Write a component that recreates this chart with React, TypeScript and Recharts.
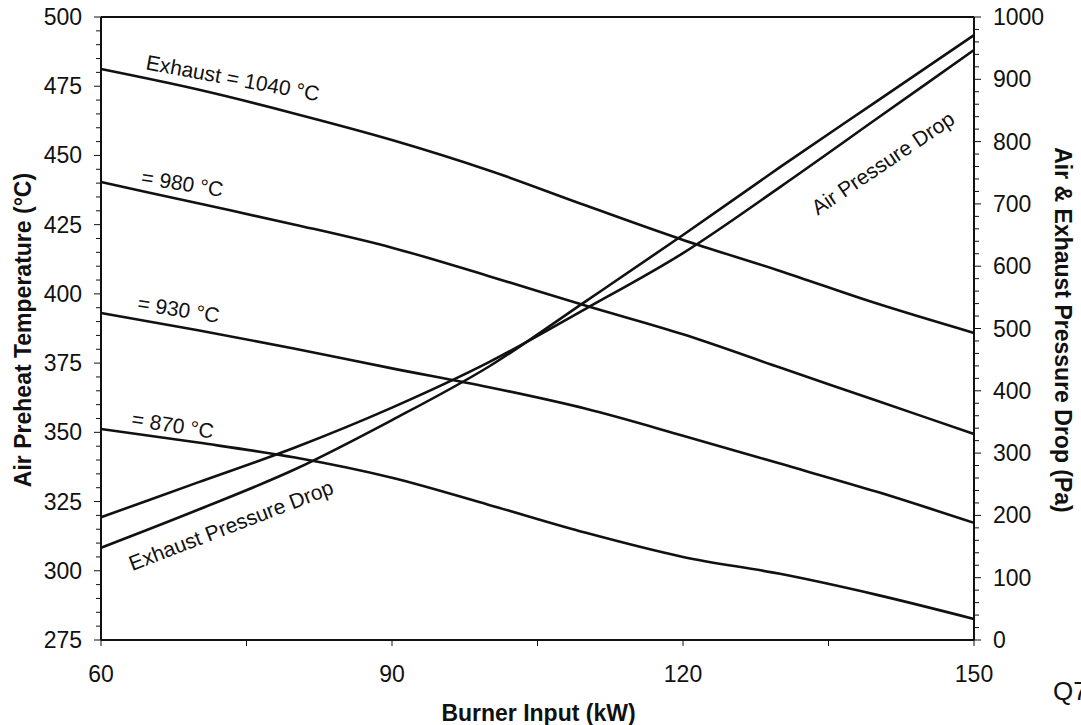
import React from 'react';
import {
  LineChart,
  Line,
  XAxis,
  YAxis,
  ReferenceLine,
  ReferenceDot,
} from 'recharts';

// burner input (kW) sampled every 10 kW
const burnerInput = [60, 70, 80, 90, 100, 110, 120, 130, 140, 150];

// air preheat temperature (°C), one curve per exhaust temperature
const preheat1040 = [481.2, 473.8, 465.1, 455.6, 444.6, 431.9, 419.5, 408.3, 396.5, 385.9];
const preheat980 = [440.4, 432.7, 425.0, 416.7, 406.4, 395.7, 385.4, 373.4, 361.4, 349.4];
const preheat930 = [393.1, 386.9, 380.2, 373.1, 366.3, 358.5, 348.8, 338.7, 328.5, 317.3];
const preheat870 = [351.2, 346.3, 340.9, 333.6, 323.8, 313.7, 305.0, 298.9, 291.3, 282.6];

// pressure drops (Pa)
const exhaustDrop = [148, 209, 274, 353, 439, 544, 650, 759, 865, 971];
const airDrop = [197, 253, 309, 373, 446, 532, 621, 727, 837, 947];

const xTicks = [60, 75, 90, 105, 120, 135, 150];
const xLabels = [60, 90, 120, 150];
const tempLabels = [275, 300, 325, 350, 375, 400, 425, 450, 475, 500];
const pressureLabels = [0, 100, 200, 300, 400, 500, 600, 700, 800, 900, 1000];

const minorTicks = (labels: number[], step: number) => {
  const out: number[] = [];
  for (let v = labels[0]; v <= labels[labels.length - 1]; v += step) out.push(v);
  return out;
};
const tempTicks = minorTicks(tempLabels, 5);
const pressureTicks = minorTicks(pressureLabels, 20);

// curve annotations: [text, x, y (left axis), rotation]
const curveNotes: Array<[string, number, number, number]> = [
  ['Exhaust = 1040 °C', 73.6, 478, 10.5],
  ['= 980 °C', 68.4, 440.0, 9],
  ['= 930 °C', 68.0, 394.5, 9],
  ['= 870 °C', 67.4, 352.7, 9],
  ['Exhaust Pressure Drop', 73.4, 316.5, -21],
  ['Air Pressure Drop', 140.6, 447.3, -34],
];

const data = burnerInput.map((x, i) => ({
  x,
  t1040: preheat1040[i],
  t980: preheat980[i],
  t930: preheat930[i],
  t870: preheat870[i],
  exhaust: exhaustDrop[i],
  air: airDrop[i],
}));

const FONT = '"Liberation Sans", Arial, Helvetica, sans-serif';
const INK = '#111';
const TICK_FONT = 23;

const LeftTick = (props: any) => {
  const { x, y, payload } = props;
  const major = tempLabels.includes(payload.value);
  return (
    <g>
      <line x1={x} y1={y} x2={x - (major ? 7 : 5)} y2={y} stroke={INK} strokeWidth={1} />
      {major && (
        <text x={x - 19} y={y} textAnchor="end" dominantBaseline="central" fontSize={TICK_FONT} fontFamily={FONT} fill={INK}>
          {payload.value}
        </text>
      )}
    </g>
  );
};

const RightTick = (props: any) => {
  const { x, y, payload } = props;
  const major = pressureLabels.includes(payload.value);
  return (
    <g>
      <line x1={x} y1={y} x2={x + (major ? 7 : 5)} y2={y} stroke={INK} strokeWidth={1} />
      {major && (
        <text x={x + 19} y={y} textAnchor="start" dominantBaseline="central" fontSize={TICK_FONT} fontFamily={FONT} fill={INK}>
          {payload.value}
        </text>
      )}
    </g>
  );
};

const BottomTick = (props: any) => {
  const { x, y, payload } = props;
  const major = xLabels.includes(payload.value);
  return (
    <g>
      <line x1={x} y1={y} x2={x} y2={y + 6} stroke={INK} strokeWidth={1} />
      {major && (
        <text x={x} y={y + 34} textAnchor="middle" dominantBaseline="central" fontSize={TICK_FONT} fontFamily={FONT} fill={INK}>
          {payload.value}
        </text>
      )}
    </g>
  );
};

const CurveNote = (props: any) => {
  const { viewBox, note, rot } = props;
  const { x, y } = viewBox;
  return (
    <text
      x={x}
      y={y}
      transform={`rotate(${rot} ${x} ${y})`}
      textAnchor="middle"
      dominantBaseline="central"
      fontSize={21}
      fontFamily={FONT}
      fill={INK}
    >
      {note}
    </text>
  );
};

const AxisTitle = (props: any) => {
  const { viewBox, title, side } = props;
  const { x, y, width, height } = viewBox;
  const style = { fontSize: 23, fontWeight: 700, fontFamily: FONT, fill: INK };
  if (side === 'bottom') {
    return (
      <text x={x + width / 2 + 1} y={713} textAnchor="middle" dominantBaseline="central" {...style}>
        {title}
      </text>
    );
  }
  const cx = side === 'left' ? 23 : 1063;
  const cy = y + height / 2 + 1.5;
  return (
    <text
      x={cx}
      y={cy}
      transform={`rotate(${side === 'left' ? -90 : 90} ${cx} ${cy})`}
      textAnchor="middle"
      dominantBaseline="central"
      {...style}
    >
      {title}
    </text>
  );
};

const lineProps = {
  type: 'monotone' as const,
  stroke: INK,
  strokeWidth: 2.6,
  dot: false,
  activeDot: false,
  isAnimationActive: false,
};

const App: React.FC = () => {
  return (
    <div style={{ position: 'absolute', left: 0, top: 0, width: 1081, height: 725, background: '#fff', overflow: 'hidden' }}>
      <LineChart width={1081} height={725} data={data} margin={{ top: 17, right: 0, left: 0, bottom: 0 }}>
        <XAxis
          dataKey="x"
          type="number"
          domain={[60, 150]}
          ticks={xTicks}
          interval={0}
          height={85}
          tickSize={0}
          tickMargin={0}
          tickLine={false}
          tick={<BottomTick />}
          axisLine={{ stroke: INK, strokeWidth: 2 }}
          label={<AxisTitle title="Burner Input (kW)" side="bottom" />}
        />
        <YAxis
          yAxisId="left"
          orientation="left"
          type="number"
          domain={[275, 500]}
          ticks={tempTicks}
          interval={0}
          width={101}
          tickSize={0}
          tickMargin={0}
          tickLine={false}
          tick={<LeftTick />}
          axisLine={{ stroke: INK, strokeWidth: 2 }}
          label={<AxisTitle title="Air Preheat Temperature (°C)" side="left" />}
        />
        <YAxis
          yAxisId="right"
          orientation="right"
          type="number"
          domain={[0, 1000]}
          ticks={pressureTicks}
          interval={0}
          width={107}
          tickSize={0}
          tickMargin={0}
          tickLine={false}
          tick={<RightTick />}
          axisLine={{ stroke: INK, strokeWidth: 2 }}
          label={<AxisTitle title="Air & Exhaust Pressure Drop (Pa)" side="right" />}
        />
        <ReferenceLine yAxisId="left" y={500} stroke={INK} strokeWidth={2} />

        <Line yAxisId="left" dataKey="t1040" {...lineProps} />
        <Line yAxisId="left" dataKey="t980" {...lineProps} />
        <Line yAxisId="left" dataKey="t930" {...lineProps} />
        <Line yAxisId="left" dataKey="t870" {...lineProps} />
        <Line yAxisId="right" dataKey="exhaust" {...lineProps} />
        <Line yAxisId="right" dataKey="air" {...lineProps} />

        {curveNotes.map(([note, x, y, rot]) => (
          <ReferenceDot
            key={note}
            yAxisId="left"
            x={x}
            y={y}
            r={0}
            fill="none"
            stroke="none"
            label={<CurveNote note={note} rot={rot} />}
          />
        ))}
      </LineChart>
      <div
        style={{
          position: 'absolute',
          left: 1053,
          top: 676,
          fontFamily: FONT,
          fontSize: 26,
          color: INK,
          lineHeight: '30px',
          whiteSpace: 'nowrap',
        }}
      >
        Q7
      </div>
    </div>
  );
};

export default App;
